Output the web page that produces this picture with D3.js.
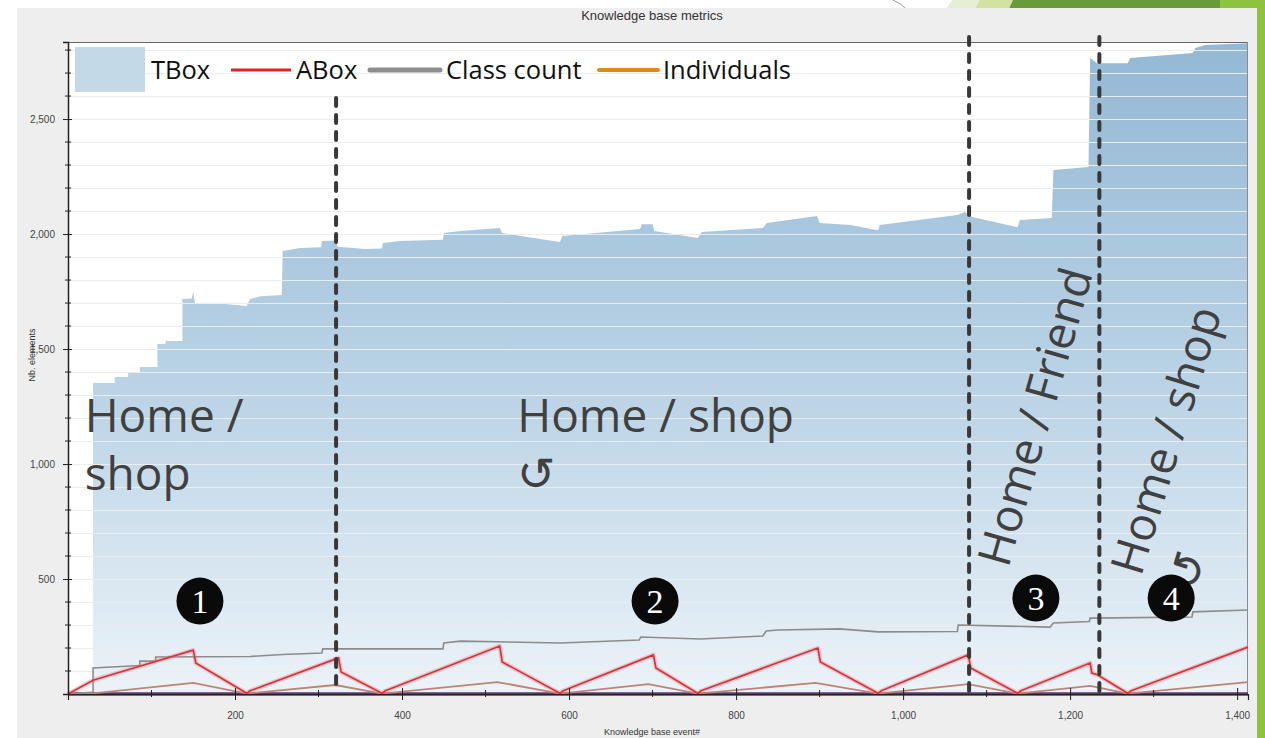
<!DOCTYPE html>
<html>
<head>
<meta charset="utf-8">
<script src="https://cdn.jsdelivr.net/npm/d3@7"></script>
<style>
  html, body { margin: 0; padding: 0; background: #ffffff; }
  svg { display: block; }
</style>
</head>
<body>
<svg id="chart" width="1265" height="738"></svg>
<script>
// ---- data: [knowledge base event #, number of elements] ----
const tboxSeries = [
  [0, 0], [30, 0], [30, 1352], [56, 1352], [56, 1378], [72, 1378], [72, 1396], [86, 1396], [86, 1422],
  [107, 1422], [107, 1522], [117, 1522], [117, 1535], [137, 1535], [137, 1717], [148, 1720], [150, 1748],
  [152, 1700], [188, 1696], [214, 1687], [218, 1717], [230, 1730], [256, 1735], [257, 1926], [278, 1939],
  [303, 1942], [304, 1970], [321, 1972], [323, 1945], [356, 1935], [376, 1937], [377, 1961], [398, 1970],
  [449, 1975], [450, 2004], [470, 2013], [517, 2026], [520, 2004], [589, 1965], [592, 1991], [685, 2022],
  [687, 2043], [700, 2043], [702, 2013], [754, 1983], [759, 2009], [832, 2026], [837, 2048], [897, 2078],
  [900, 2048], [937, 2039], [970, 2017], [972, 2039], [1065, 2083], [1074, 2096], [1083, 2074], [1137, 2030],
  [1140, 2061], [1178, 2070], [1180, 2278], [1222, 2291], [1224, 2765], [1232, 2743], [1269, 2743],
  [1272, 2765], [1347, 2787], [1350, 2809], [1362, 2822], [1413, 2830]
];
const aboxSeries = [
  [0, 0], [30, 60], [150, 191], [153, 135], [214, 3], [218, 14], [324, 157], [327, 96], [376, 3], [380, 14],
  [517, 209], [520, 139], [589, 3], [593, 14], [701, 170], [704, 113], [754, 3], [758, 14], [898, 200],
  [901, 139], [970, 3], [974, 14], [1078, 170], [1081, 113], [1137, 3], [1141, 14], [1224, 135], [1226, 91],
  [1232, 85], [1269, 3], [1273, 14], [1413, 204]
];
const classCountSeries = [
  [0, 0], [30, 8], [30, 113], [86, 124], [86, 143], [105, 143], [105, 161], [218, 163], [257, 172],
  [304, 178], [305, 196], [449, 196], [450, 222], [470, 230], [589, 222], [684, 235], [686, 248],
  [757, 239], [832, 252], [836, 274], [850, 278], [924, 283], [970, 270], [1065, 272], [1066, 300],
  [1176, 291], [1180, 309], [1223, 315], [1224, 330], [1346, 335], [1347, 357], [1413, 365]
];
const individualsSeries = [
  [0, 0], [30, 3], [150, 48], [214, 2], [320, 39], [376, 2], [514, 52], [589, 2], [695, 43], [754, 2],
  [895, 48], [970, 2], [1078, 43], [1137, 2], [1224, 35], [1269, 2], [1413, 52]
];
const baselineSeries = [[0, 0], [1413, 0]];

const legendLabels = ["TBox", "ABox", "Class count", "Individuals"];
const yTickValues = [500, 1000, 1500, 2000, 2500];
const xTickValues = [200, 400, 600, 800, 1000, 1200, 1400];

// phase boundaries (event #) and the value where each dashed line starts
const phaseBreaks = [321, 1079, 1235];
const phaseBreakTops = [2591, 2857, 2857];

// phase markers: number, event #, value
const phaseMarkers = [["1", 158, 404], ["2", 703, 404], ["3", 1159, 417], ["4", 1321, 417]];

// phase captions: lines, event #, value, rotation
const phaseCaptions = [
  { lines: ["Home /", "shop"], x: 20, y: 1139, rot: 0 },
  { lines: ["Home / shop", "\u21BA"], x: 538, y: 1139, rot: 0 },
  { lines: ["Home / Friend"], x: 1126, y: 545, rot: -74 },
  { lines: ["Home / shop", "\u21BA"], x: 1285, y: 508, rot: -73 }
];

// ---- layout ----
const svg = d3.select("#chart");
const W = 1265, H = 738;
const plot = { left: 68, right: 1248, top: 42, bottom: 694 };

const x = d3.scaleLinear().domain([0, 1413]).range([plot.left, plot.right]);
const y = d3.scaleLinear().domain([0, 2835]).range([plot.bottom, plot.top]);

// slide decoration (green theme shapes)
const deco = svg.append("g");
deco.append("path").attr("d", "M893,0 Q902,4 906,9").attr("fill", "none").attr("stroke", "#9a9a9a").attr("stroke-width", 1);
deco.append("polygon").attr("points", "952,0 982,0 976,9 946,9").attr("fill", "#e6efd3");
deco.append("polygon").attr("points", "980,0 1014,0 1010,9 975,9").attr("fill", "#d1e3a1");
deco.append("polygon").attr("points", "1013,0 1222,0 1222,9 1009,9").attr("fill", "#6a9a3b");
deco.append("rect").attr("x", 1220).attr("y", 0).attr("width", W - 1220).attr("height", 9).attr("fill", "#8fc23e");
deco.append("rect").attr("x", 1257).attr("y", 0).attr("width", W - 1257).attr("height", H).attr("fill", "#8fc23e");

// chart background
svg.append("rect").attr("x", 17).attr("y", 8).attr("width", 1240).attr("height", H - 8).attr("fill", "#eeeeee");
svg.append("rect").attr("x", plot.left).attr("y", plot.top)
  .attr("width", plot.right - plot.left).attr("height", plot.bottom - plot.top).attr("fill", "#ffffff");

// gradient for the TBox area
const defs = svg.append("defs");
const grad = defs.append("linearGradient").attr("id", "tboxFill")
  .attr("gradientUnits", "userSpaceOnUse").attr("x1", 0).attr("x2", 0)
  .attr("y1", plot.top).attr("y2", plot.bottom);
grad.append("stop").attr("offset", "0%").attr("stop-color", "#94b8d5");
grad.append("stop").attr("offset", "55%").attr("stop-color", "#bcd4e6");
grad.append("stop").attr("offset", "100%").attr("stop-color", "#ecf3f8");

const area = d3.area().x(d => x(d[0])).y0(y(0)).y1(d => y(d[1]));
svg.append("path").datum(tboxSeries).attr("d", area).attr("fill", "url(#tboxFill)");

// horizontal grid every 100
const gridValues = d3.range(100, 2900, 100);
svg.append("g").selectAll("line").data(gridValues).join("line")
  .attr("x1", plot.left).attr("x2", plot.right)
  .attr("y1", d => Math.round(y(d)) + 0.5).attr("y2", d => Math.round(y(d)) + 0.5)
  .attr("stroke", "#e9edf0").attr("stroke-width", 1);

// frame
svg.append("line").attr("x1", plot.left).attr("x2", plot.right).attr("y1", plot.top + 0.5).attr("y2", plot.top + 0.5)
  .attr("stroke", "#666").attr("stroke-width", 1.2);
svg.append("line").attr("x1", plot.right - 0.5).attr("x2", plot.right - 0.5).attr("y1", plot.top).attr("y2", plot.bottom)
  .attr("stroke", "#8a8a8a").attr("stroke-width", 1);

// series lines
const line = d3.line().x(d => x(d[0])).y(d => y(d[1]));
svg.append("path").datum(baselineSeries).attr("d", line)
  .attr("fill", "none").attr("stroke", "#563a72").attr("stroke-width", 3.5);
svg.append("path").datum(individualsSeries).attr("d", line)
  .attr("fill", "none").attr("stroke", "#bf8373").attr("stroke-width", 1.8);
svg.append("path").datum(classCountSeries).attr("d", line)
  .attr("fill", "none").attr("stroke", "#8c8c8c").attr("stroke-width", 1.6);
svg.append("path").datum(aboxSeries).attr("d", line)
  .attr("fill", "none").attr("stroke", "rgba(236,120,130,0.35)").attr("stroke-width", 4.5).attr("stroke-linejoin", "round");
svg.append("path").datum(aboxSeries).attr("d", line)
  .attr("fill", "none").attr("stroke", "#d8333b").attr("stroke-width", 1.7).attr("stroke-linejoin", "round");

// axes
const yAxis = d3.axisLeft(y).tickValues(yTickValues).tickFormat(d3.format(",")).tickSize(5).tickPadding(8);
const gy = svg.append("g").attr("transform", `translate(${plot.left},0)`).call(yAxis);
gy.select(".domain").attr("stroke", "#222").attr("stroke-width", 1.5);
gy.selectAll(".tick line").attr("x2", -5).attr("x1", 4).attr("stroke", "#222");
gy.selectAll(".tick text").attr("font-family", "Liberation Sans, Arial, sans-serif").attr("font-size", 10).attr("fill", "#444");
const yMinor = d3.range(100, 2900, 100).filter(v => v % 500 !== 0);
gy.append("g").selectAll("line").data(yMinor).join("line")
  .attr("x1", -3).attr("x2", 3).attr("y1", d => y(d)).attr("y2", d => y(d)).attr("stroke", "#222");

const xAxis = d3.axisBottom(x).tickValues(xTickValues).tickFormat(d3.format(",")).tickSize(6).tickPadding(12);
const gx = svg.append("g").attr("transform", `translate(0,${plot.bottom})`).call(xAxis);
gx.select(".domain").attr("stroke", "#222").attr("stroke-width", 1.2);
gx.selectAll(".tick line").attr("y1", -6).attr("y2", 6).attr("stroke", "#222");
gx.selectAll(".tick text").attr("font-family", "Liberation Sans, Arial, sans-serif").attr("font-size", 10).attr("fill", "#444");
const xMinor = [100, 300, 500, 700, 900, 1100, 1300];
gx.append("g").selectAll("line").data(xMinor).join("line")
  .attr("x1", d => x(d)).attr("x2", d => x(d)).attr("y1", -4).attr("y2", 3).attr("stroke", "#222");

// titles
svg.append("text").attr("x", 652).attr("y", 20).attr("text-anchor", "middle")
  .attr("font-family", "Liberation Sans, Arial, sans-serif").attr("font-size", 13).attr("fill", "#333")
  .text("Knowledge base metrics");
svg.append("text").attr("x", 652).attr("y", 735).attr("text-anchor", "middle")
  .attr("font-family", "Liberation Sans, Arial, sans-serif").attr("font-size", 9).attr("fill", "#333")
  .text("Knowledge base event#");
svg.append("text").attr("transform", "translate(35,355) rotate(-90)").attr("text-anchor", "middle")
  .attr("font-family", "Liberation Sans, Arial, sans-serif").attr("font-size", 9).attr("fill", "#333")
  .text("Nb. elements");

// legend
const legend = svg.append("g").attr("font-family", "Open Sans, sans-serif").attr("font-size", 25.5).attr("fill", "#111");
legend.append("rect").attr("x", 75).attr("y", 47).attr("width", 70).attr("height", 45).attr("fill", "#c4d9e8");
legend.append("text").attr("x", 151).attr("y", 79).text(legendLabels[0]);
legend.append("line").attr("x1", 231).attr("x2", 291).attr("y1", 70).attr("y2", 70).attr("stroke", "#e0252a").attr("stroke-width", 3);
legend.append("text").attr("x", 296).attr("y", 79).text(legendLabels[1]);
legend.append("line").attr("x1", 370).attr("x2", 440).attr("y1", 70).attr("y2", 70).attr("stroke", "#8d8d8d").attr("stroke-width", 5).attr("stroke-linecap", "round");
legend.append("text").attr("x", 446).attr("y", 79).text(legendLabels[2]);
legend.append("line").attr("x1", 599).attr("x2", 658).attr("y1", 70).attr("y2", 70).attr("stroke", "#e0881c").attr("stroke-width", 4).attr("stroke-linecap", "round");
legend.append("text").attr("x", 663).attr("y", 79).text(legendLabels[3]);

// phase boundaries
svg.append("g").selectAll("line").data(phaseBreaks).join("line")
  .attr("x1", d => x(d)).attr("x2", d => x(d))
  .attr("y1", (d, i) => y(phaseBreakTops[i])).attr("y2", y(0) - 2)
  .attr("stroke", "#383838").attr("stroke-width", 4)
  .attr("stroke-dasharray", "8,9").attr("stroke-linecap", "round");

// phase captions
const captions = svg.append("g").attr("font-family", "Open Sans, sans-serif").attr("font-size", 46).attr("fill", "#404040");
phaseCaptions.forEach(c => {
  const t = captions.append("text")
    .attr("transform", `translate(${x(c.x)},${y(c.y)}) rotate(${c.rot})`);
  c.lines.forEach((ln, i) => {
    t.append("tspan").attr("x", 0).attr("y", i * 58).text(ln);
  });
});

// phase markers
const markers = svg.append("g").selectAll("g").data(phaseMarkers).join("g")
  .attr("transform", d => `translate(${x(d[1])},${y(d[2])})`);
markers.append("circle").attr("r", 23.5).attr("fill", "#0a0a0a");
markers.append("text").attr("text-anchor", "middle").attr("dy", "0.36em")
  .attr("font-family", "Liberation Serif, DejaVu Serif, serif").attr("font-size", 34).attr("fill", "#ffffff")
  .text(d => d[0]);
</script>
</body>
</html>
